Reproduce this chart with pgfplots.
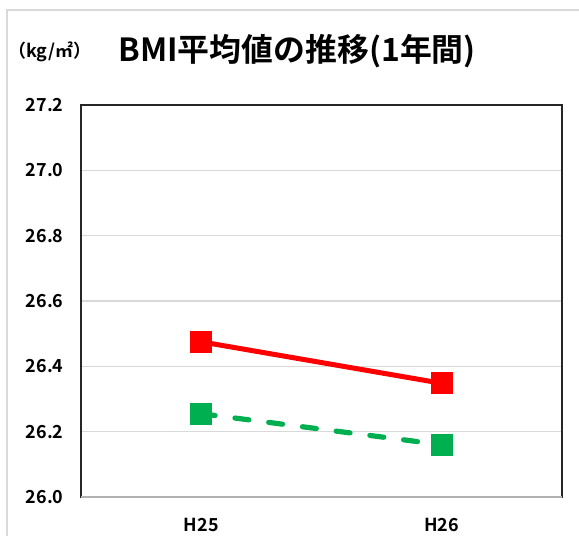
\documentclass[border=0pt]{standalone}
\usepackage{pgfplots}
\pgfplotsset{compat=1.18}
\usepackage{fontspec}
\setmainfont{Noto Sans CJK JP}[BoldFont={* Bold}]
\newfontfamily\cjk{Noto Sans CJK JP}[BoldFont={* Bold}]
\definecolor{exred}{RGB}{255,0,0}
\definecolor{exgreen}{RGB}{0,176,80}
\begin{document}
\begin{tikzpicture}[x=1bp,y=1bp]
\path[use as bounding box] (0,0) rectangle (579,536);
% outer chart frame
\draw[black!15, line width=1.2bp] (7,0) -- (7,526) -- (579,526);
\node[anchor=west, font=\cjk\bfseries\fontsize{18}{18}\selectfont, inner sep=0pt] at (8,484) {（kg/㎡）};
\node[anchor=west, font=\cjk\bfseries\fontsize{32}{32}\selectfont] at (115,485) {BMI平均値の推移(1年間)};
\begin{axis}[
    at={(81bp,39bp)}, anchor=south west,
    scale only axis, width=481bp, height=392bp,
    xmin=-0.5, xmax=1.5, ymin=26, ymax=27.2,
    xtick={0,1}, xticklabels={H25,H26},
    ytick={26,26.2,...,27.21},
    y tick label style={/pgf/number format/fixed, /pgf/number format/fixed zerofill,
                        /pgf/number format/precision=1, xshift=-14bp},
    /pgf/number format/assume math mode=true,
    tick label style={font=\cjk\bfseries\fontsize{18}{18}\selectfont},
    x tick label style={yshift=-18bp},
    major tick length=0pt,
    ymajorgrids, grid style={black!15, line width=1.5bp},
    axis line style={black!85, line width=1.8bp},
    clip=false,
]
\addplot[exred, line width=5bp, mark=square*, mark size=8.5bp,
         mark options={solid}]
  coordinates {(0,26.475) (1,26.348)};
\addplot[exgreen, line width=5.2bp, line cap=round,
         dash pattern=on 14bp off 20bp, mark=square*, mark size=8.5bp,
         mark options={solid}]
  coordinates {(0,26.255) (1,26.160)};
\draw[black!30, line width=1.8bp] (rel axis cs:0,0) -- (rel axis cs:1,0);
\end{axis}
\end{tikzpicture}
\end{document}
